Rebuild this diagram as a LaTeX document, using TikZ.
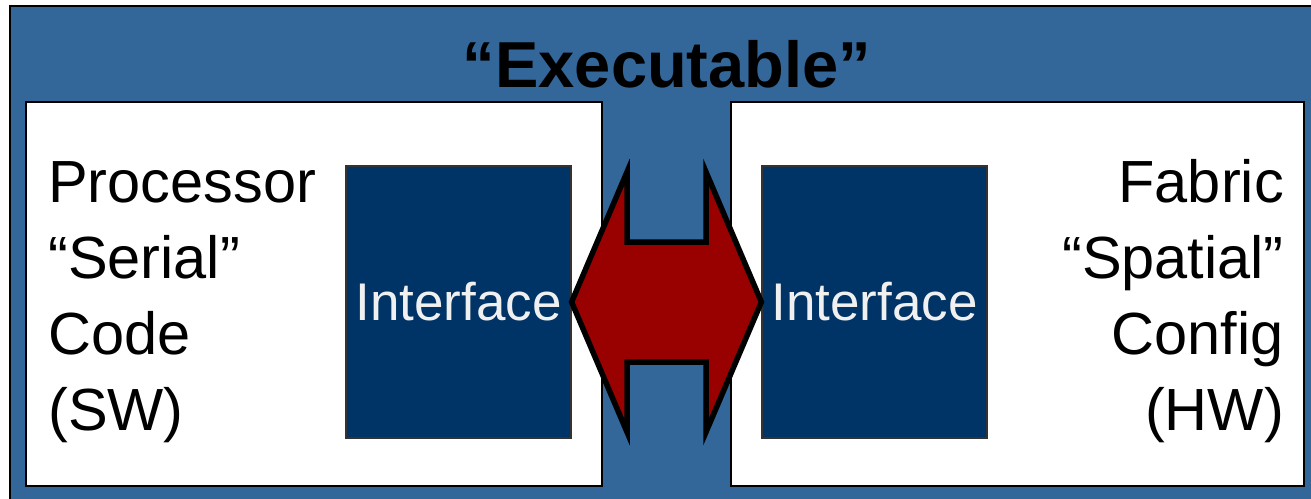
\documentclass[tikz,border=0pt]{standalone}
\usepackage{fontspec}
\setmainfont{Liberation Sans}
\definecolor{outerblue}{RGB}{51,102,153}
\definecolor{navy}{RGB}{0,51,102}
\definecolor{arrowred}{RGB}{153,0,0}
\definecolor{ifacetext}{RGB}{240,240,240}
\tikzset{
  panel/.style={draw=black, line width=2pt, fill=white, inner sep=0pt},
  iface/.style={draw=black!80, line width=1.2pt, fill=navy, inner sep=0pt,
    minimum width=225pt, minimum height=272pt,
    text=ifacetext, font=\fontsize{53}{60}\selectfont},
  bodytext/.style={inner sep=0pt, font=\fontsize{59.5}{75.7}\selectfont},
  bigarrow/.style={draw=black, line width=5.5pt, fill=arrowred, line join=miter, miter limit=10}
}
\begin{document}
\begin{tikzpicture}[x=1pt,y=-1pt]
\clip (0,0) rectangle (1311,498);
\useasboundingbox (0,0) rectangle (1311,498);
\fill[white] (0,0) rectangle (1311,498);
% outer executable box
\draw[fill=outerblue, draw=black, line width=2pt] (10,6) rectangle (1330,520);
\node[font=\fontsize{65}{72}\selectfont\bfseries, inner sep=0pt, anchor=base] (title) at (667,87) {“Executable”};
% panels
\node[panel, minimum width=576pt, minimum height=384pt] (left) at (314,294) {};
\node[panel, minimum width=573pt, minimum height=384pt] (right) at (1017.5,294) {};
% interfaces
\node[iface] (ifl) at (458.5,302) {Interface};
\node[iface] (ifr) at (874.5,302) {Interface};
% side texts
\node[bodytext, align=left, anchor=base west] (sw) at (48,430) {Processor\\“Serial”\\Code\\(SW)};
\node[bodytext, align=right, anchor=base east] (hw) at (1284,430) {Fabric\\“Spatial”\\Config\\(HW)};
% double arrow between interfaces
\coordinate (tl) at (ifl.east);
\coordinate (tr) at (ifr.west);
\draw[bigarrow] (tl) -- (627,172) -- (627,242) -- (706,242) -- (706,172) -- (tr)
  -- (706,432) -- (706,362) -- (627,362) -- (627,432) -- cycle;
\end{tikzpicture}
\end{document}
